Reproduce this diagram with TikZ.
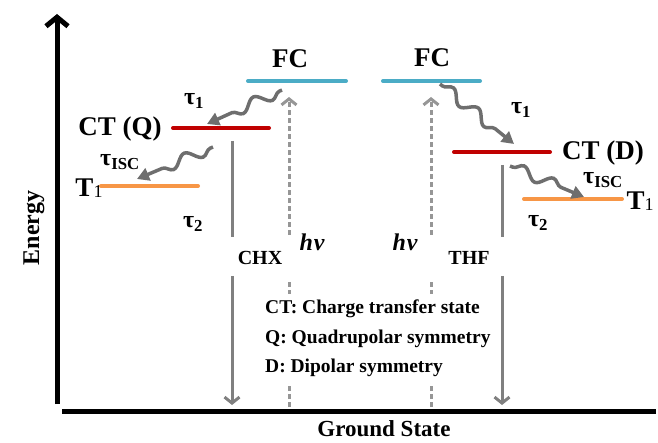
\documentclass[tikz,border=0pt]{standalone}
\usepackage{fontspec}
\setmainfont{Liberation Serif}
\usetikzlibrary{
    arrows.meta,
    decorations.pathmorphing,
    positioning
}
\definecolor{fcblue}{RGB}{75,172,198}
\definecolor{ctred}{RGB}{192,0,0}
\definecolor{tone}{RGB}{247,150,70}
\definecolor{wavegray}{RGB}{110,110,110}
\definecolor{decaygray}{RGB}{128,128,128}
\definecolor{pumpgray}{RGB}{150,150,150}
\begin{document}
\begin{tikzpicture}[x=1pt, y=-1pt,
    level/.style={line width=4pt, line cap=round},
    big/.style={font=\bfseries\fontsize{27}{29}\selectfont, inner sep=0pt},
    tau/.style={font=\bfseries\fontsize{24}{26}\selectfont, inner sep=0pt},
    small/.style={font=\bfseries\fontsize{20}{22}\selectfont, inner sep=0pt},
    wavy/.style={draw=wavegray, line width=3.5pt, decorate,
        decoration={snake, amplitude=5.5pt, segment length=32pt, pre length=3pt, post length=12pt},
        -{Triangle[length=12pt, width=13pt]}},
    decay/.style={draw=decaygray, line width=3pt},
    pump/.style={draw=pumpgray, line width=3pt, dash pattern=on 5pt off 3pt},
    barb/.style={-{Straight Barb[length=6pt, width=15pt]}}]
                        \useasboundingbox (0, 0) rectangle (658, 443);
                        \draw[line width=5pt, -{Straight Barb[length=9pt, width=22pt]}] (57, 404) -- (57, 14);
                        \draw[line width=5pt] (62, 411) -- (656, 411);
                        \node[rotate=90, font=\bfseries\fontsize{24}{26}\selectfont] (energy) at (34, 228) {Energy};
                        \node[font=\bfseries\fontsize{23}{25}\selectfont, inner sep=0pt, anchor=south] (ground) at (384, 437) {Ground State};
                        \draw[level, fcblue] (248, 81) -- (346, 81);
                        \draw[level, ctred] (173, 128) -- (269, 128);
                        \draw[level, tone] (101, 186) -- (198, 186);
                        \draw[level, fcblue] (383, 81) -- (480, 81);
                        \draw[level, ctred] (454, 152) -- (550, 152);
                        \draw[level, tone] (524, 199) -- (622, 199);
                        \node[big] (fcl) at (290, 59) {FC};
                        \node[big] (ctq) at (120, 129) {CT (Q)};
                        \node[big] (tonel) at (89, 188) {T\raisebox{-1pt}{\mdseries\fontsize{18}{18}\selectfont 1}};
                        \node[big] (fcr) at (432, 58) {FC};
                        \node[big] (ctd) at (603, 153) {CT (D)};
                        \node[big] (toner) at (640, 201) {T\raisebox{-1pt}{\mdseries\fontsize{18}{18}\selectfont 1}};
                        \node[tau] (tauonel) at (194, 101) {τ\textsubscript{1}};
                        \node[tau] (tauiscl) at (120, 162) {τ\textsubscript{ISC}};
                        \node[tau] (tautwol) at (193, 224) {τ\textsubscript{2}};
                        \node[tau] (tauoner) at (521, 110) {τ\textsubscript{1}};
                        \node[tau] (tauiscr) at (603, 180) {τ\textsubscript{ISC}};
                        \node[tau] (tautwor) at (538, 223) {τ\textsubscript{2}};
                        \node[tau] (hvl) at (312, 242) {\itshape h\kern1pt v};
                        \node[tau] (hvr) at (405, 242) {\itshape h\kern1pt v};
                        \node[small] (chx) at (260, 258) {CHX};
                        \node[small] (thf) at (469, 258) {THF};
                        \coordinate (fcqout) at (282, 90);
                        \coordinate (ctqin) at (207, 124);
                        \coordinate (ctqout) at (213, 147);
                        \coordinate (tonelin) at (137, 179);
                        \coordinate (fcdout) at (440, 84);
                        \coordinate (ctdin) at (514, 144);
                        \coordinate (ctdout) at (510, 166);
                        \coordinate (tonerin) at (584, 197);
                        \draw[wavy] (fcqout) -- (ctqin);
                        \draw[wavy] (ctqout) -- (tonelin);
                        \draw[wavy] (fcdout) -- (ctdin);
                        \draw[wavy] (ctdout) -- (tonerin);
                        \draw[decay] (232, 141) -- (232, 237);
                        \draw[decay, barb] (232, 276) -- (232, 405);
                        \draw[decay] (502, 165) -- (502, 237);
                        \draw[decay, barb] (502, 276) -- (502, 405);
                        \draw[pump] (289, 407) -- (289, 282);
                        \draw[pump, barb] (289, 235) -- (289, 97);
                        \draw[pump] (431, 407) -- (431, 282);
                        \draw[pump, barb] (431, 235) -- (431, 97);
                        \node[small, font=\bfseries\fontsize{19.5}{29.5}\selectfont, anchor=north west, align=left,
                            fill=white, inner xsep=4pt, inner ysep=6pt] (legend) at (261, 294)
                            {CT: Charge transfer state\\Q: Quadrupolar symmetry\\D: Dipolar symmetry};
                    \end{tikzpicture}
\end{document}
